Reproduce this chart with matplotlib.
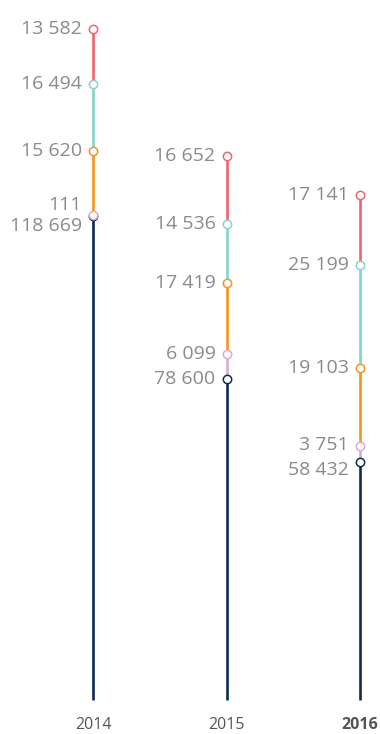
import matplotlib
matplotlib.use("Agg")
import matplotlib.pyplot as plt
import numpy as np

years = ["2014", "2015", "2016"]
base = [118669, 78600, 58432]        # navy
lilac = [111, 6099, 3751]
orange = [15620, 17419, 19103]
teal = [16494, 14536, 25199]
red = [13582, 16652, 17141]

series = [base, lilac, orange, teal, red]
colors = ["#0d2c54", "#dcaad6", "#f7931e", "#85d4ca", "#f2636f"]

def fmt(v):
    return f"{v:,}".replace(",", " ")

plt.rcParams['font.family'] = ['Open Sans', 'DejaVu Sans']

W, H, DPI = 380, 734, 100
fig = plt.figure(figsize=(W / DPI, H / DPI), dpi=DPI)
ax = fig.add_axes([0, 0, 1, 1])
ax.set_axis_off()

px_x = 133.5
ax.set_xlim(-93 / px_x, (W - 93) / px_x)
units_per_px = 245.0
ax.set_ylim(-34 * units_per_px, (H - 34) * units_per_px)

# label nudges in points (style only): (navy label, lilac label)
nudges = {0: (-7.5, 7.5), 1: (0, 0), 2: (-6, 1)}

for i, yr in enumerate(years):
    cum = 0
    tops = []
    for s, c in zip(series, colors):
        v = s[i]
        ax.plot([i, i], [cum, cum + v], color=c, lw=1.9, solid_capstyle='butt', zorder=2)
        cum += v
        tops.append(cum)
    for k, (s, c) in enumerate(zip(series, colors)):
        ax.plot([i], [tops[k]], marker='o', ms=6, mfc='white', mec=c, mew=1.1, zorder=3)
        dy = 0
        if k == 0:
            dy = nudges[i][0]
        elif k == 1:
            dy = nudges[i][1]
        ax.annotate(fmt(s[i]), xy=(i, tops[k]), xytext=(-8, dy), textcoords='offset points',
                    ha='right', va='center', fontsize=14, color='#8a8a8a')
    ax.annotate(yr, xy=(i, 0), xytext=(0, -18), textcoords='offset points',
                ha='center', va='center', fontsize=11.5, color='#555555',
                fontweight='bold' if yr == "2016" else 'normal')

fig.savefig("out.png", dpi=DPI)
